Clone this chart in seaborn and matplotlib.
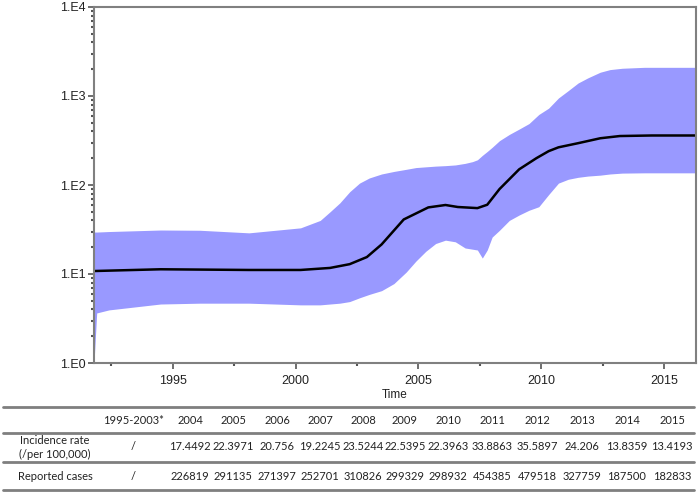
import numpy as np
import pandas as pd
import seaborn as sns
import matplotlib.pyplot as plt
from matplotlib.ticker import FixedLocator, LogLocator, NullFormatter

# %% Data

band_years = [1991.79, 1991.9, 1992.4, 1994.5, 1996.1, 1998.1, 2000.2, 2001.0, 2001.4, 2001.8,
              2002.2, 2002.6, 2003.0, 2003.5, 2004.0, 2004.5, 2004.9, 2005.3, 2005.7, 2006.1,
              2006.5, 2006.9, 2007.2, 2007.4, 2007.6, 2007.8, 2008.0, 2008.3, 2008.7, 2009.1,
              2009.5, 2009.9, 2010.3, 2010.7, 2011.1, 2011.5, 2011.9, 2012.4, 2012.8, 2013.3,
              2014.2, 2015.0, 2016.3]
upper = [29.6, 29.6, 30, 31.2, 31, 29, 33, 40, 50, 63,
         84, 105, 120, 133, 142, 150, 157, 160, 163, 165,
         168, 175, 183, 192, 215, 238, 265, 315, 370, 425,
         490, 620, 730, 950, 1150, 1400, 1600, 1850, 1980, 2050,
         2100, 2100, 2100]
lower = [1.0, 3.65, 3.95, 4.6, 4.7, 4.7, 4.5, 4.5, 4.6, 4.7,
         4.9, 5.4, 5.9, 6.5, 7.8, 10.5, 14, 18, 22, 24,
         23, 19.6, 19, 18.6, 15.1, 18.6, 26, 31, 40, 46,
         52, 57, 78, 105, 116, 122, 126, 129, 133, 136,
         137, 137, 137]

mean_years = [1991.79, 1994.5, 1998.1, 2000.2, 2001.4, 2002.2, 2002.9, 2003.5, 2004.4, 2005.4,
              2006.1, 2006.6, 2007.4, 2007.8, 2008.3, 2009.1, 2009.8, 2010.3, 2010.7, 2011.5,
              2012.4, 2013.2, 2014.5, 2016.3]
mean = [10.8, 11.3, 11.1, 11.1, 11.7, 12.9, 15.5, 21.5, 41, 56,
        59.6, 56.6, 55, 60, 90, 150, 200, 240, 265, 295,
        335, 355, 360, 360]

y_tick_labels = ['1.E0', '1.E1', '1.E2', '1.E3', '1.E4']
x_ticks = [1995, 2000, 2005, 2010, 2015]

table_header = ['1995-2003*', '2004', '2005', '2006', '2007', '2008', '2009', '2010',
                '2011', '2012', '2013', '2014', '2015']
incidence = ['/', '17.4492', '22.3971', '20.756', '19.2245', '23.5244', '22.5395', '22.3963',
             '33.8863', '35.5897', '24.206', '13.8359', '13.4193']
cases = ['/', '226819', '291135', '271397', '252701', '310826', '299329', '298932',
         '454385', '479518', '327759', '187500', '182833']

# %% Plot

sns.set_style('white')
plt.rcParams['font.family'] = ['Liberation Sans', 'DejaVu Sans']

fig = plt.figure(figsize=(6.99, 4.93), dpi=100)
ax = fig.add_axes([94 / 699, 1 - 363 / 493, (696 - 94) / 699, (363 - 7) / 493])

ax.fill_between(band_years, lower, upper, color='#9999ff', linewidth=0)
mean_df = pd.DataFrame({'Time': mean_years, 'value': mean})
sns.lineplot(data=mean_df, x='Time', y='value', color='black', linewidth=1.8, ax=ax)

ax.set_yscale('log')
ax.set_ylim(1, 1e4)
ax.set_xlim(1991.79, 2016.3)
ax.yaxis.set_major_locator(FixedLocator([1, 10, 100, 1000, 10000]))
ax.set_yticklabels(y_tick_labels)
ax.yaxis.set_minor_locator(LogLocator(base=10, subs=np.arange(2, 10)))
ax.yaxis.set_minor_formatter(NullFormatter())
ax.set_xticks(x_ticks)
ax.set_xticklabels([str(x) for x in x_ticks])
ax.xaxis.set_minor_locator(FixedLocator([1992.5, 1997.5, 2002.5, 2007.5, 2012.5]))

ax.tick_params(axis='both', which='both', bottom=True, left=True, top=False, right=False)
ax.tick_params(axis='both', which='major', direction='out', length=4, width=1.2,
               color='#555555', labelsize=9, labelcolor='#222222', pad=2)
ax.tick_params(axis='both', which='minor', direction='out', length=2, width=1.5,
               color='#555555')
ax.tick_params(axis='x', which='major', pad=5)
ax.set_xlabel('Time', fontsize=8.5, color='#222222', labelpad=1)
ax.set_ylabel('')
for sp in ax.spines.values():
    sp.set_visible(True)
    sp.set_color('#808080')
    sp.set_linewidth(1.5)

# %% Table under the chart (pixel coordinates)
tab = fig.add_axes([0, 0, 1, 1], zorder=-1)
tab.set_xlim(0, 699)
tab.set_ylim(493, 0)
tab.axis('off')

for yy in [407, 433, 462, 490]:
    tab.plot([3, 694], [yy, yy], color='#7f7f7f', linewidth=2)

col_x = [133, 190, 233, 277, 320, 363, 405, 448, 492, 537, 582, 627, 672]
tf = dict(family=['Lato', 'DejaVu Sans'], fontsize=8, color='#222222', ha='center', va='center')

for cx, h, inc, cs in zip(col_x, table_header, incidence, cases):
    tab.text(cx, 420, h, **tf)
    tab.text(cx, 447, inc, **tf)
    tab.text(cx, 476, cs, **tf)

tab.text(55, 440, 'Incidence rate', **tf)
tab.text(55, 454, '(/per 100,000)', **tf)
tab.text(55, 476, 'Reported cases', **tf)

fig.savefig('out.png', dpi=100)
